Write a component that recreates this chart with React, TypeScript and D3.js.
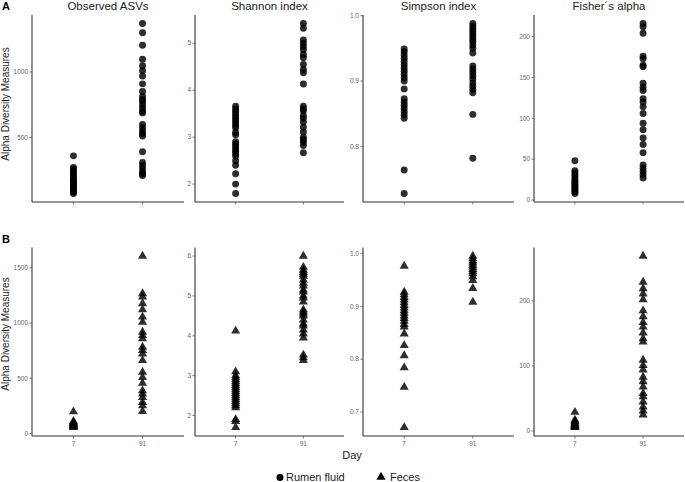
import React from "react";
import * as d3 from "d3";

// days on the x axis
const days = ["7", "91"];
const metrics = ["Observed ASVs", "Shannon index", "Simpson index", "Fisher´s alpha"];

// row A - rumen fluid
const rumenObserved7 = [358, 270, 255, 240, 225, 210, 195, 180, 170, 160, 150, 140, 130, 120, 110, 100, 90, 80, 70];
const rumenObserved91 = [1371, 1300, 1205, 1097, 1047, 1010, 970, 909, 851, 813, 790, 775, 750, 724, 700, 687, 598, 573, 548, 530, 510, 389, 308, 283, 258, 232, 220, 207];
const rumenShannon7 = [3.66, 3.6, 3.55, 3.5, 3.45, 3.4, 3.35, 3.3, 3.25, 3.2, 3.1, 3.05, 2.9, 2.85, 2.8, 2.75, 2.7, 2.65, 2.6, 2.5, 2.4, 2.22, 2.0, 1.8];
const rumenShannon91 = [5.42, 5.32, 5.07, 5.0, 4.93, 4.86, 4.76, 4.69, 4.55, 4.44, 4.37, 4.13, 3.66, 3.6, 3.56, 3.46, 3.4, 3.32, 3.21, 3.11, 3.0, 2.95, 2.89, 2.82, 2.67];
const rumenSimpson7 = [0.949, 0.945, 0.94, 0.935, 0.93, 0.925, 0.92, 0.915, 0.91, 0.905, 0.9, 0.888, 0.873, 0.868, 0.863, 0.858, 0.853, 0.848, 0.843, 0.764, 0.728];
const rumenSimpson91 = [0.988, 0.984, 0.98, 0.976, 0.972, 0.968, 0.964, 0.96, 0.955, 0.95, 0.943, 0.923, 0.918, 0.913, 0.908, 0.903, 0.897, 0.892, 0.887, 0.882, 0.849, 0.782];
const rumenFisher7 = [48, 36, 33, 30, 27, 24, 22, 20, 18, 16, 14, 12, 10, 8];
const rumenFisher91 = [216, 212, 204, 176, 173, 165, 163, 143, 138, 134, 124, 120, 114, 106, 94, 86, 76, 68, 58, 43, 39, 35, 31, 27];

// row B - feces
const fecesObserved7 = [197, 110, 100, 95, 90, 85, 80, 75, 70, 65, 60, 55];
const fecesObserved91 = [1606, 1267, 1237, 1176, 1121, 1055, 1009, 918, 888, 858, 782, 752, 721, 661, 555, 509, 455, 388, 358, 327, 282, 252, 200];
const fecesShannon7 = [4.12, 3.1, 3.0, 2.95, 2.9, 2.85, 2.8, 2.75, 2.7, 2.65, 2.6, 2.55, 2.5, 2.45, 2.4, 2.35, 2.3, 2.25, 2.2, 1.9, 1.85, 1.7];
const fecesShannon91 = [6.0, 5.72, 5.65, 5.6, 5.55, 5.5, 5.4, 5.32, 5.25, 5.15, 5.1, 5.0, 4.95, 4.85, 4.65, 4.6, 4.55, 4.5, 4.4, 4.3, 4.25, 4.15, 4.05, 3.95, 3.52, 3.45, 3.38];
const fecesSimpson7 = [0.976, 0.927, 0.922, 0.917, 0.912, 0.907, 0.902, 0.897, 0.892, 0.887, 0.882, 0.877, 0.872, 0.866, 0.861, 0.848, 0.826, 0.807, 0.784, 0.747, 0.671];
const fecesSimpson91 = [0.995, 0.99, 0.986, 0.982, 0.978, 0.974, 0.97, 0.966, 0.962, 0.956, 0.949, 0.934, 0.908];
const fecesFisher7 = [29, 17, 15, 13, 11, 10, 9, 8, 7, 6, 5.5];
const fecesFisher91 = [269, 229, 219, 211, 202, 185, 176, 167, 160, 151, 142, 137, 109, 101, 94, 83, 76, 68, 58, 53, 45, 37, 31, 25];

// y tick labels per panel
const ticksA = [[500, 1000], [2, 3, 4, 5], [0.8, 0.9, 1.0], [0, 50, 100, 150, 200]];
const ticksB = [[0, 500, 1000, 1500], [2, 3, 4, 5, 6], [0.7, 0.8, 0.9, 1.0], [0, 100, 200]];
const tickFmt = [d3.format("d"), d3.format("d"), d3.format(".1f"), d3.format("d")];

const rowA = [
  [rumenObserved7, rumenObserved91],
  [rumenShannon7, rumenShannon91],
  [rumenSimpson7, rumenSimpson91],
  [rumenFisher7, rumenFisher91],
];
const rowB = [
  [fecesObserved7, fecesObserved91],
  [fecesShannon7, fecesShannon91],
  [fecesSimpson7, fecesSimpson91],
  [fecesFisher7, fecesFisher91],
];

const W = 685;
const H = 482;
const panelX = [[32, 184], [195, 344], [363, 514], [534, 684]];
const rowY = [[15, 202], [247.5, 436]];
const font = "Liberation Sans, Arial, sans-serif";

const circlePath = d3.symbol().type(d3.symbolCircle).size(38)();
const trianglePath = d3.symbol().type(d3.symbolTriangle).size(36)();

function Panel({ data, ticks, fmt, x0, x1, y0, y1, shape, showLabels, title }) {
  const all = data.flat();
  const [lo, hi] = d3.extent(all);
  const pad = (hi - lo) * 0.05;
  const y = d3.scaleLinear().domain([lo - pad, hi + pad]).range([y1, y0]);
  const x = d3.scalePoint().domain(days).range([x0, x1]).padding(0.6);
  const path = shape === "circle" ? circlePath : trianglePath;
  return (
    <g>
      {title && (
        <text x={(x0 + x1) / 2} y={10} textAnchor="middle" fontSize={11.5} fill="#1a1a1a">
          {title}
        </text>
      )}
      {data.map((vals, i) =>
        vals.map((v, j) => (
          <path
            key={i + "-" + j}
            d={path}
            transform={`translate(${x(days[i])},${y(v)})`}
            fill="#000"
            fillOpacity={0.82}
          />
        ))
      )}
      <line x1={x0} x2={x0} y1={y0} y2={y1} stroke="#333" strokeWidth={1.1} />
      <line x1={x0} x2={x1} y1={y1} y2={y1} stroke="#333" strokeWidth={1.1} />
      {ticks.map((t) => (
        <g key={t}>
          <line x1={x0 - 2.5} x2={x0} y1={y(t)} y2={y(t)} stroke="#555" strokeWidth={0.8} />
          <text x={x0 - 4} y={y(t)} dy="0.35em" textAnchor="end" fontSize={6.5} fill="#666">
            {fmt(t)}
          </text>
        </g>
      ))}
      {days.map((d) => (
        <g key={d}>
          <line x1={x(d)} x2={x(d)} y1={y1} y2={y1 + 2.5} stroke="#555" strokeWidth={0.8} />
          {showLabels && (
            <text x={x(d)} y={y1 + 9.5} textAnchor="middle" fontSize={6.5} fill="#666">
              {d}
            </text>
          )}
        </g>
      ))}
    </g>
  );
}

export default function App() {
  return (
    <svg width={W} height={H} style={{ position: "absolute", left: 0, top: 0, background: "#fff" }} fontFamily={font}>
      <text x={2} y={10} fontSize={11} fontWeight="bold" fill="#000">A</text>
      <text x={2} y={243} fontSize={11} fontWeight="bold" fill="#000">B</text>
      <text transform="translate(9,104) rotate(-90)" textAnchor="middle" fontSize={10} fill="#1a1a1a">
        Alpha Diversity Measures
      </text>
      <text transform="translate(9,334) rotate(-90)" textAnchor="middle" fontSize={10} fill="#1a1a1a">
        Alpha Diversity Measures
      </text>
      {rowA.map((data, i) => (
        <Panel
          key={"a" + i}
          data={data}
          ticks={ticksA[i]}
          fmt={tickFmt[i]}
          x0={panelX[i][0]}
          x1={panelX[i][1]}
          y0={rowY[0][0]}
          y1={rowY[0][1]}
          shape="circle"
          showLabels={false}
          title={metrics[i]}
        />
      ))}
      {rowB.map((data, i) => (
        <Panel
          key={"b" + i}
          data={data}
          ticks={ticksB[i]}
          fmt={tickFmt[i]}
          x0={panelX[i][0]}
          x1={panelX[i][1]}
          y0={rowY[1][0]}
          y1={rowY[1][1]}
          shape="triangle"
          showLabels={true}
          title={null}
        />
      ))}
      <text x={352} y={459} textAnchor="middle" fontSize={11} fill="#1a1a1a">Day</text>
      <path d={circlePath} transform="translate(280,477.5)" fill="#000" />
      <text x={286} y={481} fontSize={11} fill="#1a1a1a">Rumen fluid</text>
      <path d={trianglePath} transform="translate(381,477)" fill="#000" />
      <text x={390} y={481} fontSize={11} fill="#1a1a1a">Feces</text>
    </svg>
  );
}
